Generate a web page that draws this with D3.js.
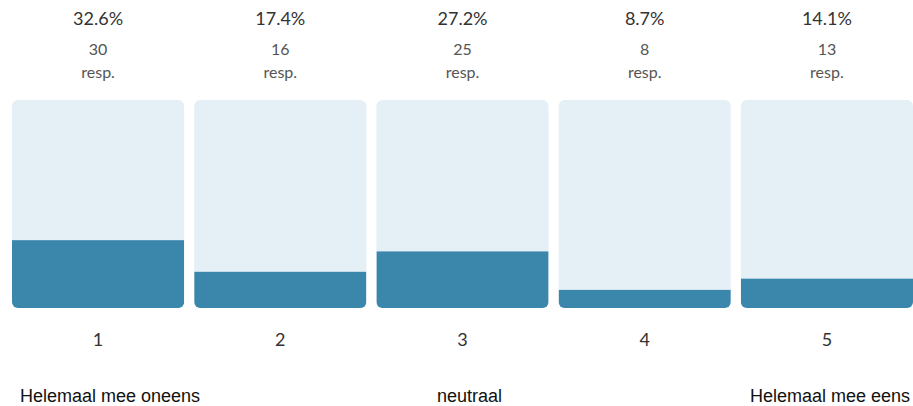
<!DOCTYPE html>
<head>
    <title>Survey scale</title>
    <script src="https://d3js.org/d3.v7.min.js"></script>
    <style>
        body { margin: 0; background: #fff; }
        .pct { font-family: Lato, sans-serif; font-size: 18px; fill: #333; }
        .cnt { font-family: Lato, sans-serif; font-size: 16px; fill: #555; }
        .num { font-family: Lato, sans-serif; font-size: 18px; fill: #333; }
        .end { font-family: "Liberation Sans", Arial, sans-serif; font-size: 18px; fill: #111; }
    </style>
</head>
<body>
    <svg id="chart" width="913" height="406"></svg>
    <script>
        // answer options and their counts
        var options = ["1", "2", "3", "4", "5"];
        var counts = [30, 16, 25, 8, 13];
        var percents = [32.6, 17.4, 27.2, 8.7, 14.1];
        var endLabels = ["Helemaal mee oneens", "neutraal", "Helemaal mee eens"];

        var svg = d3.select("#chart");

        var x = d3.scaleBand()
            .domain(options)
            .range([12, 913])
            .paddingInner(0.055)
            .paddingOuter(0);

        var y = d3.scaleLinear()
            .domain([0, 100])
            .range([308, 100]);

        var cols = svg.selectAll(".col")
            .data(options)
            .enter().append("g")
            .attr("class", "col");

        // clip each panel to a rounded rect
        cols.append("clipPath")
            .attr("id", function (d, i) { return "clip" + i; })
            .append("rect")
            .attr("x", function (d) { return x(d); })
            .attr("y", y(100))
            .attr("width", x.bandwidth())
            .attr("height", y(0) - y(100))
            .attr("rx", 6);

        cols.append("rect")
            .attr("x", function (d) { return x(d); })
            .attr("y", y(100))
            .attr("width", x.bandwidth())
            .attr("height", y(0) - y(100))
            .attr("rx", 6)
            .attr("fill", "#e5f0f6");

        cols.append("rect")
            .attr("clip-path", function (d, i) { return "url(#clip" + i + ")"; })
            .attr("x", function (d) { return x(d); })
            .attr("y", function (d, i) { return y(percents[i]); })
            .attr("width", x.bandwidth())
            .attr("height", function (d, i) { return y(0) - y(percents[i]); })
            .attr("fill", "#3b86ab");

        var cx = function (d) { return x(d) + x.bandwidth() / 2; };

        cols.append("text")
            .attr("class", "pct")
            .attr("x", cx)
            .attr("y", 25)
            .attr("text-anchor", "middle")
            .text(function (d, i) { return percents[i] + "%"; });

        cols.append("text")
            .attr("class", "cnt")
            .attr("x", cx)
            .attr("y", 55)
            .attr("text-anchor", "middle")
            .text(function (d, i) { return counts[i]; });

        cols.append("text")
            .attr("class", "cnt")
            .attr("x", cx)
            .attr("y", 78)
            .attr("text-anchor", "middle")
            .text("resp.");

        cols.append("text")
            .attr("class", "num")
            .attr("x", cx)
            .attr("y", 346)
            .attr("text-anchor", "middle")
            .text(function (d) { return d; });

        // end labels under the scale
        svg.append("text").attr("class", "end")
            .attr("x", 20).attr("y", 402)
            .text(endLabels[0]);
        svg.append("text").attr("class", "end")
            .attr("x", cx("3") + 7).attr("y", 402)
            .attr("text-anchor", "middle")
            .text(endLabels[1]);
        svg.append("text").attr("class", "end")
            .attr("x", 910).attr("y", 402)
            .attr("text-anchor", "end")
            .text(endLabels[2]);
    </script>
</body>
